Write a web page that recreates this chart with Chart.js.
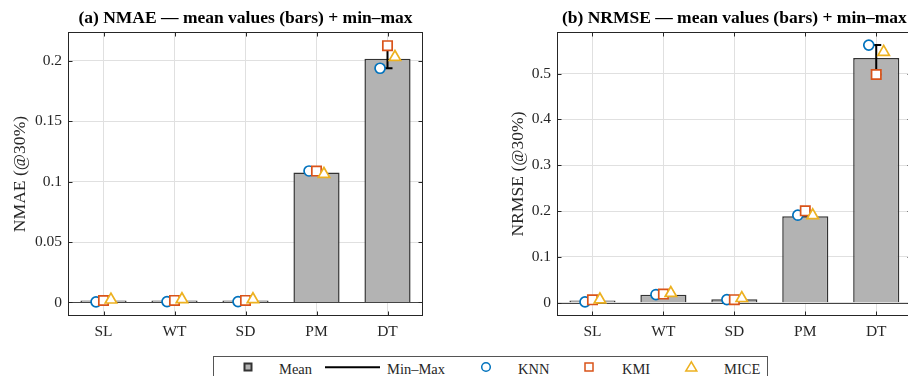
<!DOCTYPE html>
<html>
<head>
<meta charset="utf-8">
<script src="https://cdn.jsdelivr.net/npm/chart.js@4/dist/chart.umd.min.js"></script>
<style>
  html, body { margin: 0; padding: 0; width: 908px; height: 376px; overflow: hidden; background: #fff; }
  canvas { position: absolute; top: 0; }
  #chartA { left: 0; }
  #chartB { left: 454px; }
  #legend { position: absolute; left: 0; top: 0; }
</style>
</head>
<body>
<canvas id="chartA" width="454" height="352"></canvas>
<canvas id="chartB" width="466" height="352"></canvas>
<svg id="legend" width="908" height="376" xmlns="http://www.w3.org/2000/svg"
     font-family="Liberation Serif, Times New Roman, serif" font-size="14.5" fill="#262626">
  <rect x="213.5" y="356.5" width="554" height="40" fill="#fff" stroke="#555" stroke-width="1"/>
  <rect x="244.5" y="363.5" width="7" height="7" fill="#b3b3b3" stroke="#333" stroke-width="2"/>
  <text x="279" y="373.5">Mean</text>
  <line x1="325" y1="367.3" x2="380" y2="367.3" stroke="#000" stroke-width="2"/>
  <text x="387" y="373.5">Min–Max</text>
  <circle cx="486" cy="367" r="4.3" fill="#fff" stroke="#0072BD" stroke-width="1.5"/>
  <text x="518" y="373.5">KNN</text>
  <rect x="585" y="363" width="8" height="8" fill="#fff" stroke="#D95319" stroke-width="1.5"/>
  <text x="622" y="373.5">KMI</text>
  <polygon points="691.3,361.8 685.8,371 696.8,371" fill="#fff" stroke="#EDB120" stroke-width="1.5"/>
  <text x="724" y="373.5">MICE</text>
</svg>
<script>
// Variables on the x axis
const categories = ['SL', 'WT', 'SD', 'PM', 'DT'];

// NMAE at 30% missing: mean bar and per-method values
const nmaeMean = [0.0016, 0.0017, 0.0017, 0.1075, 0.2017];
const nmaeKNN  = [0.0005, 0.0007, 0.0007, 0.1088, 0.1938];
const nmaeKMI  = [0.0016, 0.0017, 0.0017, 0.1087, 0.2125];
const nmaeMICE = [0.0023, 0.0026, 0.0026, 0.1062, 0.2030];

// NRMSE at 30% missing: mean bar and per-method values
const nrmseMean = [0.0050, 0.0175, 0.0075, 0.1890, 0.5340];
const nrmseKNN  = [0.0020, 0.0180, 0.0070, 0.1910, 0.5620];
const nrmseKMI  = [0.0065, 0.0190, 0.0068, 0.2006, 0.4980];
const nrmseMICE = [0.0070, 0.0210, 0.0100, 0.1906, 0.5470];

// Y tick values and their labels
const nmaeTicks       = [0, 0.05, 0.1, 0.15, 0.2];
const nmaeTickLabels  = ['0', '0.05', '0.1', '0.15', '0.2'];
const nrmseTicks      = [0, 0.1, 0.2, 0.3, 0.4, 0.5];
const nrmseTickLabels = ['0', '0.1', '0.2', '0.3', '0.4', '0.5'];

const FONT = 'Liberation Serif, Times New Roman, serif';
const AXIS_COLOR = '#262626';
const GRID_COLOR = '#e0e0e0';
const METHOD_STYLE = [
  { label: 'KNN',  color: '#0072BD', pointStyle: 'circle',   radius: 5,   shift: -0.105 },
  { label: 'KMI',  color: '#D95319', pointStyle: 'rect',     radius: 6.6, shift: 0 },
  { label: 'MICE', color: '#EDB120', pointStyle: 'triangle', radius: 6.6, shift: 0.105 }
];

function makeChart(canvasId, spec) {
  const series = [spec.knn, spec.kmi, spec.mice];
  const lo = categories.map((_, i) => Math.min(...series.map(s => s[i])));
  const hi = categories.map((_, i) => Math.max(...series.map(s => s[i])));
  const positions = categories.map((_, i) => i);

  // Zero baseline and min–max whiskers, drawn right after the bars
  const whiskers = {
    id: 'whiskers',
    afterDatasetDraw(chart, args) {
      if (args.index !== 0) return;
      const { ctx, chartArea: a, scales } = chart;
      const y0 = Math.round(scales.y.getPixelForValue(0)) + 0.5;
      ctx.save();
      ctx.strokeStyle = '#444';
      ctx.lineWidth = 1;
      ctx.beginPath();
      ctx.moveTo(a.left, y0); ctx.lineTo(a.right, y0);
      ctx.stroke();
      ctx.strokeStyle = '#000';
      ctx.lineWidth = 2;
      positions.forEach(i => {
        const xc = scales.x.getPixelForValue(i);
        const yl = scales.y.getPixelForValue(lo[i]);
        const yh = scales.y.getPixelForValue(hi[i]);
        ctx.beginPath();
        ctx.moveTo(xc, yl); ctx.lineTo(xc, yh);
        ctx.moveTo(xc - 5, yl); ctx.lineTo(xc + 5, yl);
        ctx.moveTo(xc - 5, yh); ctx.lineTo(xc + 5, yh);
        ctx.stroke();
      });
      ctx.restore();
    }
  };

  // Boxed axes with inward tick marks on all four sides
  const frame = {
    id: 'frame',
    afterDraw(chart) {
      const { ctx, chartArea: a, scales } = chart;
      ctx.save();
      ctx.strokeStyle = AXIS_COLOR;
      ctx.lineWidth = 1;
      const L = Math.round(a.left) + 0.5, R = Math.round(a.right) - 0.5;
      const T = Math.round(a.top) + 0.5, B = Math.round(a.bottom) - 0.5;
      ctx.strokeRect(L, T, R - L, B - T);
      ctx.beginPath();
      positions.forEach(i => {
        const xc = Math.round(scales.x.getPixelForValue(i)) + 0.5;
        ctx.moveTo(xc, B); ctx.lineTo(xc, B - 4);
        ctx.moveTo(xc, T); ctx.lineTo(xc, T + 4);
      });
      spec.ticks.forEach(v => {
        const yc = Math.round(scales.y.getPixelForValue(v)) + 0.5;
        ctx.moveTo(L, yc); ctx.lineTo(L + 4, yc);
        ctx.moveTo(R, yc); ctx.lineTo(R - 4, yc);
      });
      ctx.stroke();
      ctx.restore();
    }
  };

  const markerSets = METHOD_STYLE.map((m, k) => ({
    type: 'scatter',
    label: m.label,
    data: series[k].map((v, i) => ({ x: i + m.shift, y: v })),
    pointStyle: m.pointStyle,
    pointRadius: m.radius,
    pointBorderColor: m.color,
    pointBackgroundColor: '#fff',
    pointBorderWidth: 1.7,
    order: 3 - k
  }));

  return new Chart(document.getElementById(canvasId), {
    type: 'bar',
    data: {
      datasets: [
        {
          type: 'bar',
          label: 'Mean',
          data: spec.mean.map((v, i) => ({ x: i, y: v })),
          backgroundColor: '#b3b3b3',
          borderColor: '#333',
          borderWidth: 1.5,
          barPercentage: 0.65,
          categoryPercentage: 1,
          grouped: false,
          order: 5
        },
        ...markerSets
      ]
    },
    options: {
      responsive: false,
      animation: false,
      devicePixelRatio: 1,
      layout: { padding: spec.padding },
      plugins: {
        legend: { display: false },
        tooltip: { enabled: false },
        title: {
          display: true,
          text: spec.title,
          fullSize: false,
          color: '#000',
          font: { family: FONT, size: 17.5, weight: 'bold' },
          padding: { top: 8, bottom: 3 }
        }
      },
      scales: {
        x: {
          type: 'linear',
          offset: false,
          min: -0.5,
          max: categories.length - 0.5,
          grid: { color: GRID_COLOR, drawTicks: false, offset: false },
          border: { display: false },
          afterBuildTicks(s) { s.ticks = positions.map(v => ({ value: v })); },
          ticks: {
            color: AXIS_COLOR,
            font: { family: FONT, size: 15.5 },
            padding: 7,
            maxRotation: 0,
            autoSkip: false,
            callback: (v) => categories[v] ?? ''
          },
          afterFit(s) { s.height = 36; }
        },
        y: {
          type: 'linear',
          min: spec.yMin,
          max: spec.yMax,
          grid: { color: GRID_COLOR, drawTicks: false },
          border: { display: false },
          afterBuildTicks(s) { s.ticks = spec.ticks.map(v => ({ value: v })); },
          ticks: {
            color: AXIS_COLOR,
            font: { family: FONT, size: 15.5 },
            padding: 6,
            callback: (v) => spec.tickLabels[spec.ticks.indexOf(v)] ?? ''
          },
          title: {
            display: true,
            text: spec.yTitle,
            color: AXIS_COLOR,
            font: { family: FONT, size: 17.6 },
            padding: 10
          },
          afterFit(s) { s.width = spec.yAxisWidth; }
        }
      }
    },
    plugins: [whiskers, frame]
  });
}

makeChart('chartA', {
  title: '(a) NMAE — mean values (bars) + min–max',
  yTitle: 'NMAE (@30%)',
  mean: nmaeMean, knn: nmaeKNN, kmi: nmaeKMI, mice: nmaeMICE,
  yMin: -0.0112, yMax: 0.2238,
  ticks: nmaeTicks, tickLabels: nmaeTickLabels,
  yAxisWidth: 68,
  padding: { left: 0, right: 31, top: 0, bottom: 0 }
});

makeChart('chartB', {
  title: '(b) NRMSE — mean values (bars) + min–max',
  yTitle: 'NRMSE (@30%)',
  mean: nrmseMean, knn: nrmseKNN, kmi: nrmseKMI, mice: nrmseMICE,
  yMin: -0.0288, yMax: 0.5906,
  ticks: nrmseTicks, tickLabels: nrmseTickLabels,
  yAxisWidth: 59,
  padding: { left: 44, right: 8, top: 0, bottom: 0 }
});
</script>
</body>
</html>
